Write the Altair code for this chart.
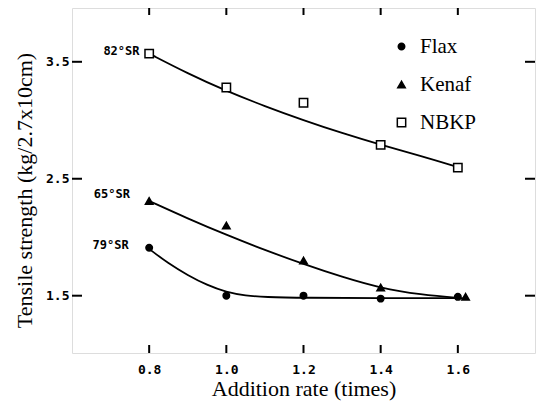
import altair as alt
import pandas as pd

# ---- data ----
series_names = ["Flax", "Kenaf", "NBKP"]

flax_x = [0.8, 1.0, 1.2, 1.4, 1.6]
flax_y = [1.91, 1.50, 1.50, 1.475, 1.49]
kenaf_x = [0.8, 1.0, 1.2, 1.4, 1.62]
kenaf_y = [2.31, 2.10, 1.80, 1.57, 1.49]
nbkp_x = [0.8, 1.0, 1.2, 1.4, 1.6]
nbkp_y = [3.57, 3.28, 3.15, 2.79, 2.595]

# fitted curves
flax_cx = [0.8, 0.85, 0.9, 0.95, 1.0, 1.05, 1.1, 1.2, 1.4, 1.6]
flax_cy = [1.90, 1.775, 1.675, 1.59, 1.53, 1.50, 1.488, 1.482, 1.478, 1.48]
kenaf_cx = [0.8, 0.9, 1.0, 1.1, 1.2, 1.3, 1.4, 1.5, 1.62]
kenaf_cy = [2.31, 2.16, 2.02, 1.89, 1.77, 1.66, 1.565, 1.51, 1.475]
nbkp_cx = [0.8, 0.9, 1.0, 1.1, 1.2, 1.3, 1.4, 1.5, 1.6]
nbkp_cy = [3.57, 3.40, 3.25, 3.12, 3.00, 2.89, 2.79, 2.70, 2.60]

x_ticks = [0.8, 1.0, 1.2, 1.4, 1.6]
y_ticks = [1.5, 2.5, 3.5]

ann_text = ["82°SR", "65°SR", "79°SR"]
ann_x = [0.775, 0.75, 0.747]
ann_y = [3.59, 2.37, 1.935]

# ---- tables ----
pts = pd.DataFrame({
    "x": flax_x + kenaf_x + nbkp_x,
    "y": flax_y + kenaf_y + nbkp_y,
    "series": ["Flax"] * len(flax_x) + ["Kenaf"] * len(kenaf_x) + ["NBKP"] * len(nbkp_x),
})
curves = pd.DataFrame({
    "x": flax_cx + kenaf_cx + nbkp_cx,
    "y": flax_cy + kenaf_cy + nbkp_cy,
    "series": ["Flax"] * len(flax_cx) + ["Kenaf"] * len(kenaf_cx) + ["NBKP"] * len(nbkp_cx),
})
ann = pd.DataFrame({"x": ann_x, "y": ann_y, "t": ann_text})
xt = pd.DataFrame({"x": x_ticks})
yt = pd.DataFrame({"y": y_ticks})

W, H = 463, 345
xs = alt.Scale(domain=[0.6, 1.8], nice=False, zero=False)
ys = alt.Scale(domain=[1.01, 3.96], nice=False, zero=False)

mono = "DejaVu Sans Mono"
serif = "Liberation Serif"

xaxis = alt.Axis(values=x_ticks, format=".1f", ticks=False, domain=False, grid=False,
                 labelFont=mono, labelFontSize=13, labelFontWeight="bold", labelColor="black",
                 labelPadding=10, title="Addition rate (times)", titleFont=serif,
                 titleFontSize=22, titleFontWeight="normal", titleColor="black", titlePadding=2)
yaxis = alt.Axis(values=y_ticks, format=".1f", ticks=False, domain=False, grid=False,
                 labelFont=mono, labelFontSize=13, labelFontWeight="bold", labelColor="black",
                 labelPadding=3, title="Tensile strength (kg/2.7x10cm)", titleFont=serif,
                 titleFontSize=22, titleFontWeight="normal", titleColor="black", titlePadding=9,
                 titleY=182)


def X():
    return alt.X("x:Q", scale=xs, axis=xaxis)


def Y():
    return alt.Y("y:Q", scale=ys, axis=yaxis)


lines = alt.Chart(curves).mark_line(color="black", strokeWidth=1.8, interpolate="basis").encode(
    x=X(), y=Y(), detail="series:N")

legend = alt.Legend(orient="none", legendX=319, legendY=28, title=None,
                    labelFont=serif, labelFontSize=21, labelColor="black",
                    labelOffset=8, rowPadding=16, symbolStrokeWidth=1.5)

points = alt.Chart(pts).mark_point(strokeWidth=1.5, opacity=1, fillOpacity=1).encode(
    x=X(), y=Y(),
    shape=alt.Shape("series:N", scale=alt.Scale(domain=series_names,
                                                range=["circle", "triangle-up", "square"]), legend=legend),
    fill=alt.Fill("series:N", scale=alt.Scale(domain=series_names,
                                              range=["black", "black", "white"]), legend=legend),
    stroke=alt.Stroke("series:N", scale=alt.Scale(domain=series_names,
                                                  range=["black", "black", "black"]), legend=legend),
    size=alt.Size("series:N", scale=alt.Scale(domain=series_names, range=[42, 70, 40]), legend=legend),
)

labels = alt.Chart(ann).mark_text(font=mono, fontSize=12, fontWeight="bold", align="right",
                                  baseline="middle", color="black").encode(x=X(), y=Y(), text="t:N")

tick_l = alt.Chart(yt).mark_rule(color="black", strokeWidth=2).encode(
    y=Y(), x=alt.value(0), x2=alt.value(10))
tick_r = alt.Chart(yt).mark_rule(color="black", strokeWidth=2).encode(
    y=Y(), x=alt.value(W), x2=alt.value(W - 10))
tick_b = alt.Chart(xt).mark_rule(color="black", strokeWidth=2).encode(
    x=X(), y=alt.value(H), y2=alt.value(H - 8))
tick_t = alt.Chart(xt).mark_rule(color="black", strokeWidth=2).encode(
    x=X(), y=alt.value(0), y2=alt.value(7))

chart = alt.layer(tick_l, tick_r, tick_b, tick_t, lines, points, labels).properties(
    width=W, height=H,
    autosize=alt.AutoSizeParams(type="none"),
    padding={"left": 64, "top": 0, "right": 2, "bottom": 52},
).configure_view(stroke="black", strokeWidth=2).configure(background="white")

chart.save("out.html", embed_options={"renderer": "svg", "actions": False})
